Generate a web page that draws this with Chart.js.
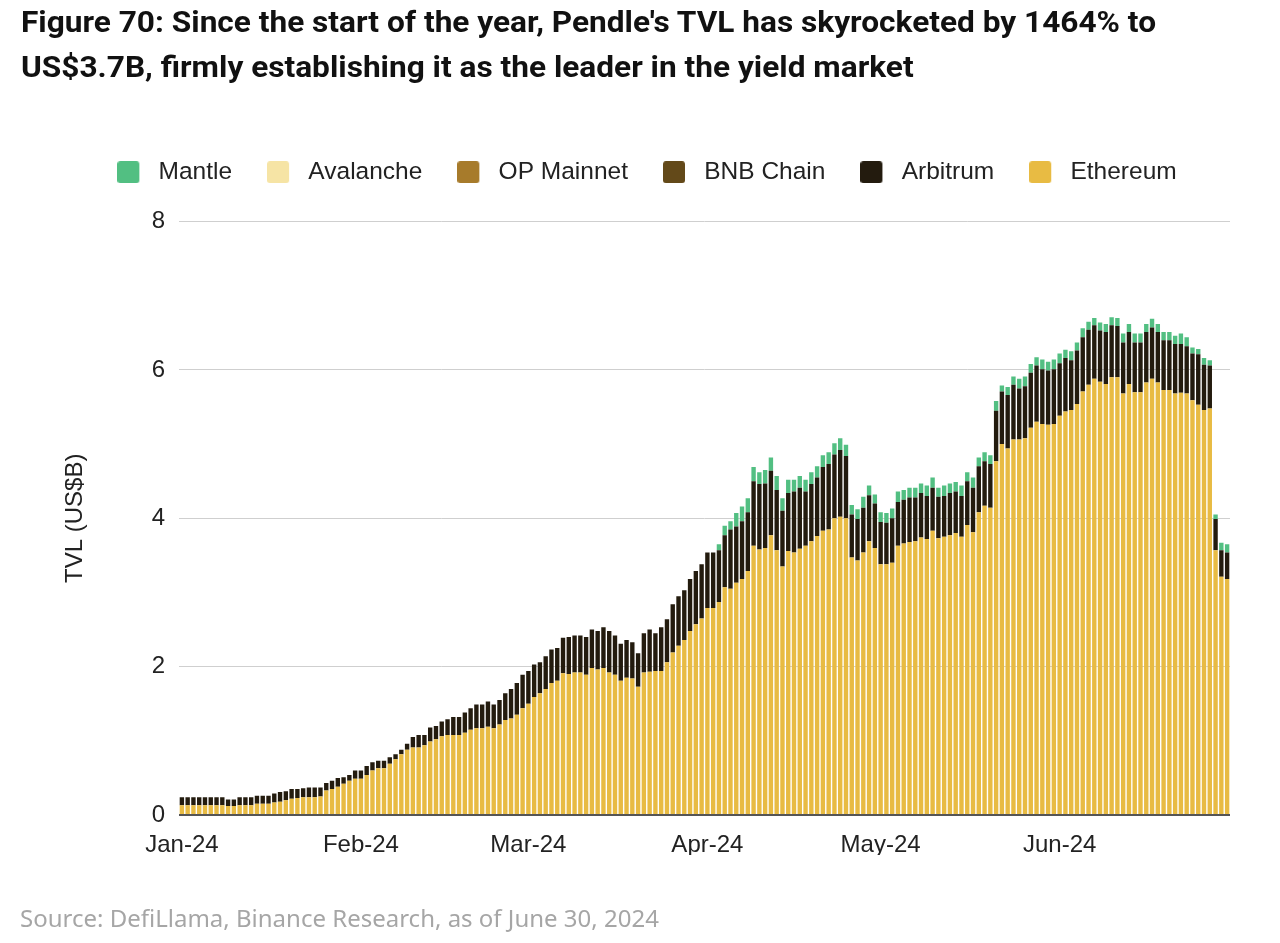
<!DOCTYPE html>
<html><head><meta charset="utf-8">
<script src="https://cdn.jsdelivr.net/npm/chart.js@4.4.1/dist/chart.umd.min.js"></script>
<style>
html,body{margin:0;padding:0;background:#fff;width:1280px;height:943px;overflow:hidden;position:relative}
canvas{position:absolute;left:0;top:0}
#title{position:absolute;left:21px;top:0px;font-family:Roboto,"Open Sans",sans-serif;font-weight:700;font-size:29px;line-height:44.5px;color:#111;white-space:nowrap;transform-origin:0 0}
#title span{display:inline-block}
#src{position:absolute;left:20px;top:903px;font-family:"Noto Sans",sans-serif;font-size:24px;line-height:30px;color:#a6a6a6;white-space:nowrap}
</style></head><body>
<canvas id="c" width="1280" height="943"></canvas>
<div id="title"><span id="l1">Figure 70: Since the start of the year, Pendle's TVL has skyrocketed by 1464% to</span><br><span>US$3.7B, firmly establishing it as the leader in the yield market</span></div>
<div id="src">Source: DefiLlama, Binance Research, as of June 30, 2024</div>
<script>
// ---- data (US$B, daily 2024-01-01 .. 2024-06-30) ----
const monthLabels = ["Jan-24","Feb-24","Mar-24","Apr-24","May-24","Jun-24"];
const startDate = "2024-01-01";
const dayCount = 182;

const ethereum = [
 0.13,0.13,0.13,0.13,0.13,0.13,0.13,0.13,0.12,0.12,0.13,0.13,0.13,0.15,0.15,0.15,0.17,0.18,0.20,0.22,0.23,0.24,0.24,0.24,0.25,0.33,0.35,0.38,0.42,0.46,0.49,
 0.49,0.54,0.60,0.63,0.63,0.69,0.75,0.82,0.88,0.91,0.91,0.94,0.99,1.02,1.06,1.08,1.08,1.08,1.11,1.15,1.17,1.17,1.19,1.17,1.22,1.28,1.30,1.35,1.44,
 1.50,1.59,1.64,1.70,1.78,1.81,1.91,1.90,1.92,1.92,1.89,1.98,1.96,1.98,1.92,1.89,1.81,1.85,1.84,1.73,1.92,1.93,1.94,1.94,2.06,2.19,2.28,2.36,2.48,2.57,2.65,
 2.79,2.79,2.87,3.07,3.05,3.13,3.18,3.29,3.63,3.58,3.60,3.77,3.57,3.35,3.56,3.54,3.59,3.63,3.69,3.76,3.83,3.85,4.00,4.02,4.00,3.47,3.43,3.54,3.69,3.60,
 3.38,3.38,3.40,3.63,3.66,3.68,3.69,3.74,3.72,3.83,3.73,3.75,3.77,3.80,3.75,3.91,3.81,4.08,4.17,4.14,4.77,5.00,4.94,5.06,5.06,5.08,5.22,5.30,5.27,5.26,5.27,
 5.38,5.44,5.46,5.54,5.71,5.80,5.88,5.84,5.81,5.90,5.90,5.68,5.81,5.70,5.70,5.83,5.88,5.83,5.73,5.73,5.68,5.69,5.68,5.59,5.53,5.46,5.48,3.57,3.21,3.18
];
const arbitrum = [
 0.11,0.11,0.11,0.11,0.11,0.11,0.11,0.11,0.09,0.09,0.11,0.11,0.11,0.11,0.11,0.11,0.12,0.13,0.12,0.13,0.12,0.12,0.13,0.13,0.12,0.10,0.11,0.12,0.09,0.08,0.11,
 0.11,0.12,0.11,0.10,0.10,0.09,0.07,0.06,0.08,0.14,0.17,0.14,0.19,0.18,0.20,0.21,0.24,0.24,0.27,0.29,0.32,0.32,0.34,0.32,0.33,0.36,0.40,0.43,0.45,
 0.44,0.44,0.42,0.44,0.45,0.44,0.48,0.50,0.50,0.50,0.51,0.52,0.52,0.55,0.56,0.53,0.50,0.51,0.49,0.45,0.53,0.57,0.51,0.59,0.58,0.65,0.67,0.67,0.70,0.72,0.73,
 0.75,0.75,0.70,0.70,0.80,0.76,0.78,0.79,0.87,0.88,0.87,0.87,0.81,0.75,0.78,0.82,0.82,0.73,0.77,0.79,0.86,0.88,0.86,0.90,0.84,0.58,0.56,0.60,0.62,0.60,
 0.57,0.56,0.60,0.59,0.59,0.60,0.59,0.60,0.58,0.58,0.56,0.55,0.57,0.56,0.55,0.59,0.60,0.62,0.60,0.59,0.68,0.71,0.72,0.74,0.69,0.70,0.74,0.76,0.74,0.73,0.74,
 0.71,0.72,0.67,0.72,0.73,0.74,0.72,0.69,0.70,0.70,0.69,0.69,0.70,0.67,0.67,0.68,0.69,0.68,0.67,0.67,0.67,0.66,0.64,0.63,0.68,0.61,0.58,0.42,0.36,0.36
];
const bnbChain = [];
const opMainnet = [];
const avalanche = [];
const mantle = [
 0,0,0,0,0,0,0,0,0,0,0,0,0,0,0,0,0,0,0,0,0,0,0,0,0,0,0,0,0,0,0,
 0,0,0,0,0,0,0,0,0,0,0,0,0,0,0,0,0,0,0,0,0,0,0,0,0,0,0,0,0,
 0,0,0,0,0,0,0,0,0,0,0,0,0,0,0,0,0,0,0,0,0,0,0,0,0,0,0,0,0,0,0,
 0,0,0.08,0.13,0.11,0.18,0.20,0.19,0.19,0.16,0.18,0.18,0.19,0.17,0.18,0.16,0.16,0.16,0.16,0.15,0.16,0.16,0.15,0.16,0.15,0.13,0.13,0.15,0.13,0.12,
 0.13,0.13,0.13,0.14,0.13,0.13,0.13,0.13,0.14,0.14,0.12,0.14,0.13,0.13,0.14,0.12,0.14,0.12,0.12,0.12,0.13,0.08,0.11,0.11,0.13,0.13,0.12,0.11,0.13,0.12,0.13,
 0.13,0.11,0.12,0.11,0.12,0.11,0.10,0.11,0.11,0.11,0.11,0.12,0.11,0.12,0.12,0.11,0.12,0.11,0.11,0.11,0.11,0.14,0.12,0.08,0.07,0.09,0.07,0.06,0.10,0.11
];
const yTicks = [0,2,4,6,8];

// ---- title width fit (text layout only) ----
(function(){
  const t = document.getElementById('title');
  const w = document.getElementById('l1').getBoundingClientRect().width;
  if (w > 0) t.style.transform = 'scaleX(' + (1135 / w) + ')';
})();

// ---- categories ----
const days = [];
{
  const d0 = new Date(startDate + "T00:00:00Z");
  for (let i = 0; i < dayCount; i++) {
    const d = new Date(d0.getTime() + i * 86400000);
    days.push(d.toISOString().slice(0,10));
  }
}
function tickText(iso) {
  const [y, m, d] = iso.split("-").map(Number);
  return d === 1 ? monthLabels[m - 1] : "";
}

const FONT = '"Liberation Sans", Arial, sans-serif';
const TXT = '#222';

// legend swatch: 22x22 rounded square followed by transparent spacing
function swatch(color) {
  const c = document.createElement('canvas');
  c.width = 29; c.height = 22;
  const g = c.getContext('2d');
  g.fillStyle = color;
  g.beginPath();
  if (g.roundRect) g.roundRect(0, 0, 22, 22, 3); else g.rect(0, 0, 22, 22);
  g.fill();
  return c;
}

const legendSpace = {
  id: 'legendSpace',
  beforeLayout(chart) {
    const lg = chart.legend;
    if (lg && !lg._patched) {
      const f = lg.fit;
      lg.fit = function () { f.call(this); this.height += 27; };
      lg._patched = true;
    }
  }
};

new Chart(document.getElementById('c'), {
  type: 'bar',
  data: {
    labels: days,
    datasets: [
      { label: 'Ethereum', data: ethereum, backgroundColor: '#E8BB43' },
      { label: 'Arbitrum', data: arbitrum, backgroundColor: '#231B0E' },
      { label: 'BNB Chain', data: bnbChain, backgroundColor: '#634919' },
      { label: 'OP Mainnet', data: opMainnet, backgroundColor: '#A77B2B' },
      { label: 'Avalanche', data: avalanche, backgroundColor: '#F6E4A5' },
      { label: 'Mantle', data: mantle, backgroundColor: '#52BF82' }
    ]
  },
  options: {
    responsive: false,
    animation: false,
    datasets: { bar: { categoryPercentage: 1, barPercentage: 0.76 } },
    layout: { padding: { top: 125, left: 14, right: 0, bottom: 88 } },
    plugins: {
      tooltip: { enabled: false },
      legend: {
        reverse: true,
        labels: {
          usePointStyle: true, pointStyleWidth: 29, boxHeight: 22, padding: 35,
          color: TXT, font: { family: FONT, size: 24.5 },
          generateLabels(chart) {
            const items = Chart.defaults.plugins.legend.labels.generateLabels(chart);
            items.forEach(it => { it.pointStyle = swatch(it.fillStyle); it.lineWidth = 0; });
            return items;
          }
        }
      }
    },
    scales: {
      x: {
        stacked: true,
        grid: { display: false },
        border: { display: false },
        ticks: {
          autoSkip: false, maxRotation: 0, minRotation: 0, padding: 8,
          color: TXT, font: { family: FONT, size: 24 },
          callback: function (v, i) { return tickText(days[i]); }
        },
        afterFit(s) { s.height = 40; }
      },
      y: {
        stacked: true, min: 0, max: 8,
        afterBuildTicks(s) { s.ticks = yTicks.map(v => ({ value: v })); },
        ticks: { padding: 14, color: TXT, font: { family: FONT, size: 24 } },
        grid: {
          drawTicks: false,
          color: c => c.tick && c.tick.value === 0 ? '#555' : '#cfcfcf',
          lineWidth: c => c.tick && c.tick.value === 0 ? 2 : 1
        },
        border: { display: false },
        title: { display: true, text: 'TVL (US$B)', color: TXT, font: { family: FONT, size: 24 }, padding: { top: 47, bottom: 0 } },
        afterFit(s) { s.width = 165; }
      },
      yR: {
        position: 'right', display: true,
        grid: { display: false }, border: { display: false },
        ticks: { display: false },
        afterFit(s) { s.width = 50; }
      }
    }
  },
  plugins: [legendSpace]
});
</script>
</body></html>
